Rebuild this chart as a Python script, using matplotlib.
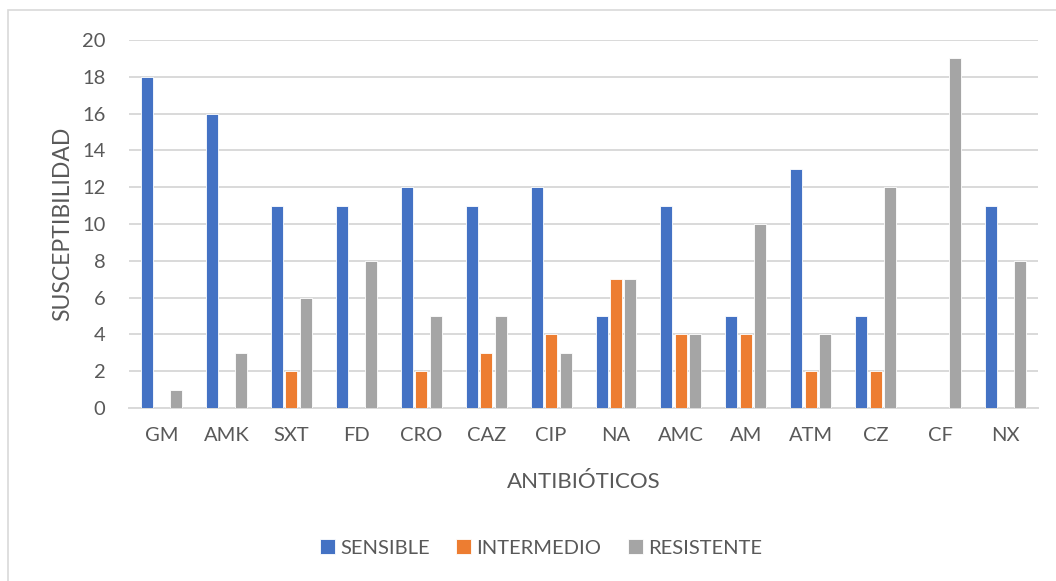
import matplotlib.pyplot as plt
import numpy as np
from matplotlib.patches import Rectangle

antibioticos = ["GM", "AMK", "SXT", "FD", "CRO", "CAZ", "CIP", "NA",
                "AMC", "AM", "ATM", "CZ", "CF", "NX"]
sensible = [18, 16, 11, 11, 12, 11, 12, 5, 11, 5, 13, 5, 0, 11]
intermedio = [0, 0, 2, 0, 2, 3, 4, 7, 4, 4, 2, 2, 0, 0]
resistente = [1, 3, 6, 8, 5, 5, 3, 7, 4, 10, 4, 12, 19, 8]

series = [("SENSIBLE", sensible, "#4472C4"),
          ("INTERMEDIO", intermedio, "#ED7D31"),
          ("RESISTENTE", resistente, "#A5A5A5")]

plt.rcParams['font.family'] = ['Lato', 'DejaVu Sans']
text_color = "#595959"
grid_color = "#D9D9D9"

fig = plt.figure(figsize=(10.56, 5.81), dpi=100)
ax = fig.add_axes([0.1222, 0.2978, 0.8608, 0.6334])

# chart frame
fig.patches.append(Rectangle((8 / 1056, -0.1), 1.2, 1 - 10 / 581 + 0.1,
                             transform=fig.transFigure, fill=False,
                             edgecolor=grid_color, linewidth=1.2))

x = np.arange(len(antibioticos))
width = 0.185
offset = 0.223
handles = []
for i, (name, vals, color) in enumerate(series):
    b = ax.bar(x + (i - 1) * offset, vals, width, color=color,
               edgecolor="white", linewidth=0.6, label=name, zorder=3)
    handles.append(b)

ax.set_xlim(-0.5, len(antibioticos) - 0.5)
ax.set_ylim(0, 20)
ax.set_yticks(range(0, 21, 2))
ax.set_xticks(x)
ax.set_xticklabels(antibioticos)
ax.grid(axis="y", color=grid_color, linewidth=1.4, zorder=0)
ax.tick_params(axis="both", length=0, labelsize=14.5, colors=text_color)
ax.tick_params(axis="x", pad=14)
ax.tick_params(axis="y", pad=17)
for side in ["top", "right", "left"]:
    ax.spines[side].set_visible(False)
ax.spines["bottom"].set_color(grid_color)
ax.spines["bottom"].set_linewidth(1.4)

ax.set_xlabel("ANTIBIÓTICOS", fontsize=16, color=text_color, labelpad=20)
ax.set_ylabel("SUSCEPTIBILIDAD", fontsize=16.5, color=text_color, labelpad=6)

fig.legend(handles=handles, loc="center", bbox_to_anchor=(541 / 1056, 1 - 548 / 581),
           ncol=3, frameon=False, fontsize=14.5, labelcolor=text_color,
           handlelength=0.75, handleheight=0.75, handletextpad=0.25,
           columnspacing=1.3)

fig.savefig("out.png", dpi=100)
